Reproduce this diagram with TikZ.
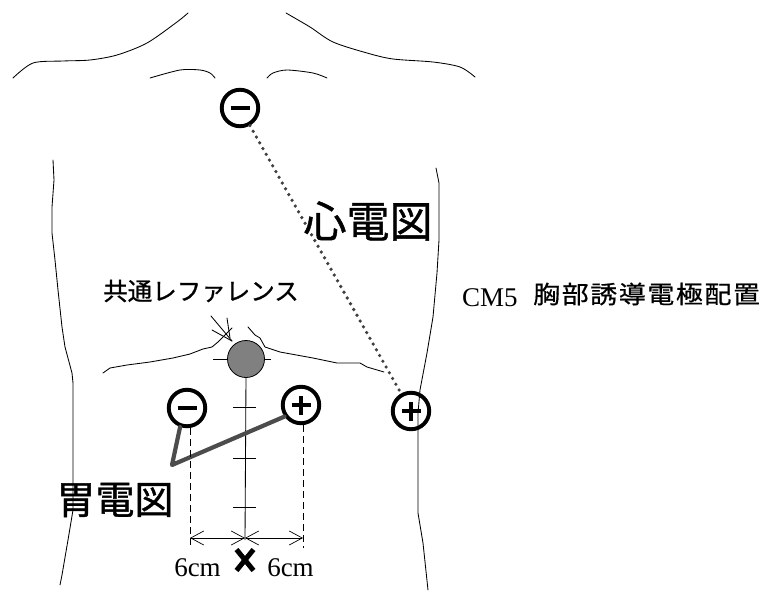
\documentclass[tikz,border=0pt]{standalone}
\usepackage{fontspec}
\setmainfont{Liberation Serif}
\newfontfamily\jp[FakeBold=1]{Noto Sans CJK JP}
\newfontfamily\jpwide[FakeStretch=1.1,FakeBold=0.6]{Noto Sans CJK JP}
\usetikzlibrary{arrows.meta,calc}
\newcommand{\gap}{\kern1.6pt}

\begin{document}
\begin{tikzpicture}[x=1pt,y=-1pt,
  outline/.style={line width=0.85pt, line join=round, line cap=round},
  electrode/.style={circle, draw, line width=3.9pt, minimum size=36.5pt, inner sep=0pt},
  minuspole/.style={electrode, path picture={
      \draw[line width=3.2pt] ([xshift=-9.5pt]path picture bounding box.center)
        -- ([xshift=9.5pt]path picture bounding box.center);}},
  pluspole/.style={electrode, path picture={
      \draw[line width=3.2pt] ([xshift=-9.5pt]path picture bounding box.center)
        -- ([xshift=9.5pt]path picture bounding box.center);
      \draw[line width=3.2pt] ([yshift=-9.5pt]path picture bounding box.center)
        -- ([yshift=9.5pt]path picture bounding box.center);}},
  refpole/.style={circle, draw, line width=0.8pt, fill=black!50, minimum size=37pt, inner sep=0pt},
  lead/.style={line width=4.2pt, draw=black!70, line join=round, line cap=round},
  dotlead/.style={line width=3.6pt, draw=black!75, line cap=round, dash pattern=on 0pt off 6.6pt},
  guide/.style={line width=0.8pt, dash pattern=on 7pt off 4pt},
  tick/.style={line width=0.85pt},
  dimarrow/.style={line width=0.7pt, {Straight Barb[length=13pt,width=14pt]}-{Straight Barb[length=13pt,width=14pt]}},
  jplabel/.style={inner sep=0pt, font=\jp},
]
\useasboundingbox (0,0) rectangle (777,592);

% neck and shoulders
\draw[outline] plot[smooth] coordinates {(188,13) (177,22) (147,43) (117,55) (90,60) (63,61) (33,63) (13,78)};
\draw[outline] plot[smooth] coordinates {(286,13) (310,27) (333,42) (367,53) (393,59) (433,62) (460,67) (475,77)};
% clavicles
\draw[outline] plot[smooth] coordinates {(150,78) (180,70) (200,70) (210,73) (215,78)};
\draw[outline] plot[smooth] coordinates {(267,78) (273,73) (287,70) (313,73) (327,78)};

% sides of the trunk
\draw[outline] (53,160) -- (54,180) -- (52,207) -- (52,233) -- (55,260) -- (58,290) -- (62,327)
  -- (65,347) -- (72,373) -- (73,383) -- (73,510) -- (68,540) -- (62,575) -- (60,585);
\draw[outline] (436,168) -- (439,183) -- (439,240) -- (437,273) -- (433,317) -- (427,353)
  -- (420,390) -- (418,413) -- (418,513) -- (423,543) -- (428,590);

% lower costal margins
\draw[outline] (103,373) -- (110,368) -- (127,365) -- (150,362) -- (173,358) -- (190,354)
  -- (203,349) -- (212,347) -- (218,342) -- (232,328);
\draw[outline] (248,327) -- (255,335) -- (260,338) -- (265,347) -- (280,352) -- (313,358)
  -- (337,363) -- (360,363) -- (367,367) -- (384,372);

% pointer to the common reference
\draw[outline] (211,316) -- (232,341);
\draw[outline] (212,330) -- (232,341);
\draw[outline] (227,318) -- (230,338);

% midline with its scale
\draw[tick] (213,359) -- (271,359);
\coordinate (xmark) at (245,560);
\draw[tick] (246,377) -- (245,540);
\foreach \ty in {407,458,507} \draw[tick] (233,\ty) -- (256,\ty);

% electrodes
\node[minuspole] (cmneg) at (240,108) {};
\node[pluspole]  (cmpos) at (411,411) {};
\node[minuspole] (egneg) at (187,408) {};
\node[pluspole]  (egpos) at (301,405) {};
\node[refpole]   (ref)   at (246,359) {};

% CM5 lead
\draw[dotlead] (cmneg) -- (cmpos);

% gastric lead
\coordinate (egbend) at (172,465);
\draw[lead] (egneg.250) -- (egbend) -- (egpos.215);

% 6 cm offsets
\coordinate (ldim) at (190,538);
\coordinate (mdim) at (245,538);
\coordinate (rdim) at (303,538);
\draw[guide] (190,428) -- (190,548);
\draw[guide] (303,425) -- (303,548);
\draw[dimarrow] (ldim) -- (mdim);
\draw[dimarrow] (mdim) -- (rdim);

% cross at the midpoint
\draw[line width=5pt] ($(xmark)+(-8.5,-10.5)$) -- ($(xmark)+(8.5,10.5)$);
\draw[line width=5pt] ($(xmark)+(8.5,-10.5)$) -- ($(xmark)+(-8.5,10.5)$);

% labels
\node[anchor=base, inner sep=0pt, font=\fontsize{27}{27}\selectfont] (dl) at (197.5,576) {6cm};
\node[anchor=base, inner sep=0pt, font=\fontsize{27}{27}\selectfont] (dr) at (290.5,576) {6cm};
\node[jplabel, font=\jp\fontsize{43}{43}\selectfont] (ecg) at (368,221) {心電図};
\node[jplabel, font=\jp\fontsize{39}{39}\selectfont] (egg) at (115,500) {胃電図};
\node[jplabel, font=\jp\fontsize{24.5}{24.5}\selectfont] (common) at (201,291) {共通レファレンス};
\node[anchor=base west, inner sep=0pt, font=\fontsize{27}{27}\selectfont] (cm5) at (462,306) {CM5};
\node[anchor=west, inner sep=0pt, font=\jpwide\fontsize{24.5}{24.5}\selectfont] (cm5jp) at (533,294)
  {胸\gap 部\gap 誘\gap 導\gap 電\gap 極\gap 配\gap 置};
\end{tikzpicture}
\end{document}
